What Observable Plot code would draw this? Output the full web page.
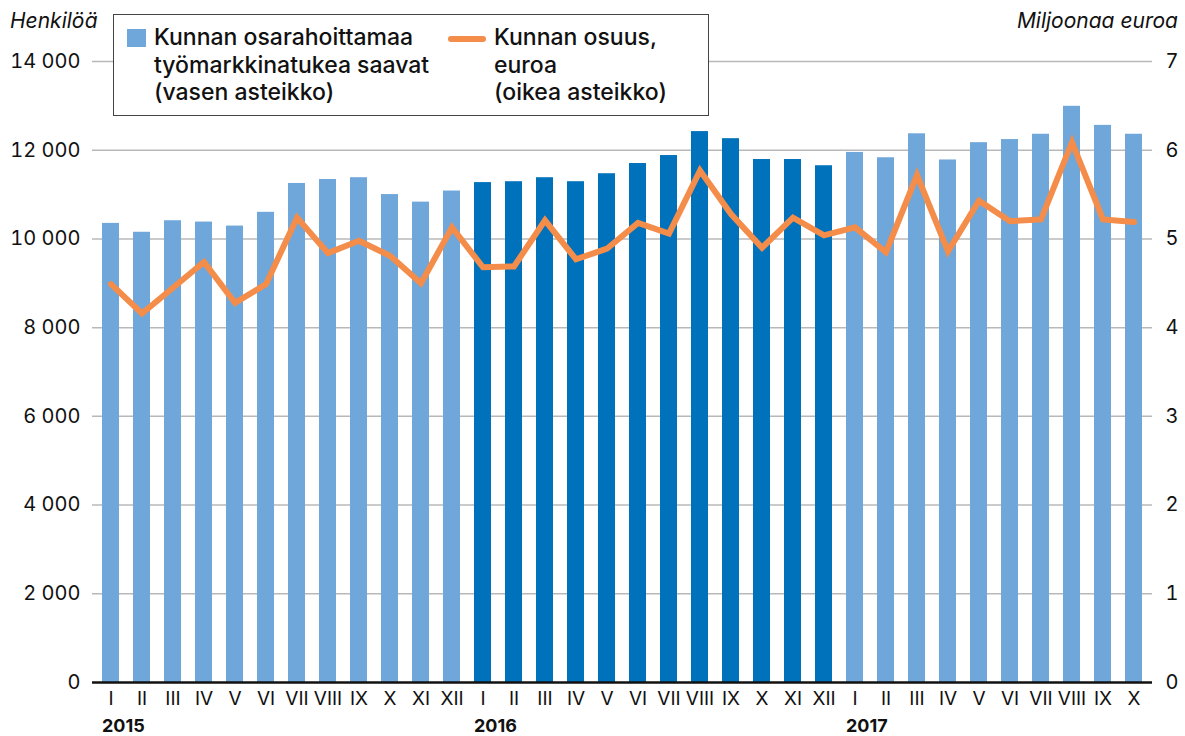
<!DOCTYPE html>
<html>
<head>
<meta charset="utf-8">
<script src="https://cdn.jsdelivr.net/npm/d3@7"></script>
<script src="https://cdn.jsdelivr.net/npm/@observablehq/plot@0.6"></script>
<style>
  body { margin: 0; background: #fff; }
  #wrap { position: relative; width: 1185px; height: 736px; font-family: Inter, "Liberation Sans", sans-serif; color: #111; }
  .axlab { position: absolute; top: 8px; font-size: 21px; font-style: italic; color: #111; }
  #legend { position: absolute; left: 113px; top: 14px; width: 594px; height: 100px; border: 1.5px solid #444; background: #fff; box-sizing: content-box; }
  .lg { position: absolute; font-size: 23px; font-weight: 500; line-height: 27.5px; color: #111; white-space: nowrap; }
  .sw { position: absolute; }
</style>
</head>
<body>
<div id="wrap"></div>
<script>
// ---- data ----
const years = [2015, 2016, 2017];
const monthNames = ["I","II","III","IV","V","VI","VII","VIII","IX","X","XI","XII"];
const monthsPerYear = [12, 12, 10];
// Kunnan osarahoittamaa työmarkkinatukea saavat (henkilöä), vasen asteikko
const persons = [10350, 10150, 10410, 10380, 10290, 10600, 11250, 11340, 11380, 11000, 10830, 11080,
                 11270, 11290, 11380, 11290, 11470, 11700, 11880, 12420, 12260, 11790, 11790, 11650,
                 11950, 11830, 12370, 11780, 12170, 12240, 12360, 12990, 12560, 12360];
// Kunnan osuus, miljoonaa euroa, oikea asteikko
const euros = [4.49, 4.16, 4.45, 4.74, 4.28, 4.49, 5.24, 4.84, 4.98, 4.81, 4.50, 5.13,
               4.68, 4.69, 5.21, 4.77, 4.89, 5.18, 5.06, 5.77, 5.28, 4.90, 5.24, 5.04,
               5.13, 4.85, 5.72, 4.86, 5.43, 5.20, 5.22, 6.09, 5.22, 5.19];
const leftTicks = [0, 2000, 4000, 6000, 8000, 10000, 12000, 14000];
const rightTicks = [0, 1, 2, 3, 4, 5, 6, 7];
const highlightYear = 2016;

// ---- build table ----
const rows = [];
years.forEach((y, yi) => {
  for (let m = 0; m < monthsPerYear[yi]; m++) {
    rows.push({key: y + "-" + monthNames[m], year: y, month: monthNames[m]});
  }
});
rows.forEach((r, i) => { r.persons = persons[i]; r.euros = euros[i]; });
const keys = rows.map(r => r.key);
const monthOf = new Map(rows.map(r => [r.key, r.month]));
const yearStarts = rows.filter(r => r.month === "I");

const ratio = 14000 / 7; // right axis -> left axis
const light = "#6fa7db", dark = "#0071bb", orange = "#f48c4a", grid = "#b8b8b8";
const fmt = d => d3.format(",")(d).replace(/,/g, " ");

const chart = Plot.plot({
  width: 1185,
  height: 736,
  marginTop: 61,
  marginBottom: 54,
  marginLeft: 92,
  marginRight: 33,
  style: {fontFamily: "Inter, 'Liberation Sans', sans-serif", fontSize: "20px", color: "#111", background: "transparent"},
  x: {type: "band", domain: keys, paddingInner: 0.45, paddingOuter: 0.225},
  y: {domain: [0, 14000]},
  marks: [
    Plot.gridY(leftTicks.filter(d => d > 0), {stroke: grid, strokeOpacity: 1, strokeWidth: 1.5}),
    Plot.barY(rows, {x: "key", y: "persons", fill: d => d.year === highlightYear ? dark : light}),
    Plot.lineY(rows, {x: "key", y: d => d.euros * ratio, stroke: orange, strokeWidth: 6, strokeLinejoin: "miter", strokeMiterlimit: 10}),
    Plot.ruleY([0], {stroke: "#111", strokeWidth: 2.5}),
    Plot.axisY({anchor: "left", ticks: leftTicks, tickFormat: fmt, tickSize: 0, tickPadding: 12, label: null, fontSize: 20}),
    Plot.axisY({anchor: "right", ticks: rightTicks.map(d => d * ratio), tickFormat: d => String(d / ratio), tickSize: 0, tickPadding: 13, label: null, fontSize: 20}),
    Plot.axisX({tickFormat: k => monthOf.get(k), tickSize: 0, tickPadding: 9, label: null, fontSize: 19}),
    Plot.text(yearStarts, {x: "key", text: d => String(d.year), frameAnchor: "bottom", dy: 49, dx: -9, textAnchor: "start", fontWeight: "bold", fontSize: 18})
  ]
});

const wrap = document.getElementById("wrap");
wrap.appendChild(chart);

const l1 = document.createElement("div");
l1.className = "axlab"; l1.style.left = "10px"; l1.textContent = "Henkilöä";
wrap.appendChild(l1);
const l2 = document.createElement("div");
l2.className = "axlab"; l2.style.right = "7px"; l2.textContent = "Miljoonaa euroa";
wrap.appendChild(l2);

const legend = document.createElement("div");
legend.id = "legend";
legend.innerHTML = `
  <div class="sw" style="left:13px;top:14px;width:19px;height:18px;background:${light}"></div>
  <div class="lg" style="left:40px;top:9px">Kunnan osarahoittamaa<br>työmarkkinatukea saavat<br>(vasen asteikko)</div>
  <div class="sw" style="left:334px;top:21px;width:38px;height:6px;border-radius:3px;background:${orange}"></div>
  <div class="lg" style="left:380px;top:9px">Kunnan osuus,<br>euroa<br>(oikea asteikko)</div>`;
wrap.appendChild(legend);
</script>
</body>
</html>
